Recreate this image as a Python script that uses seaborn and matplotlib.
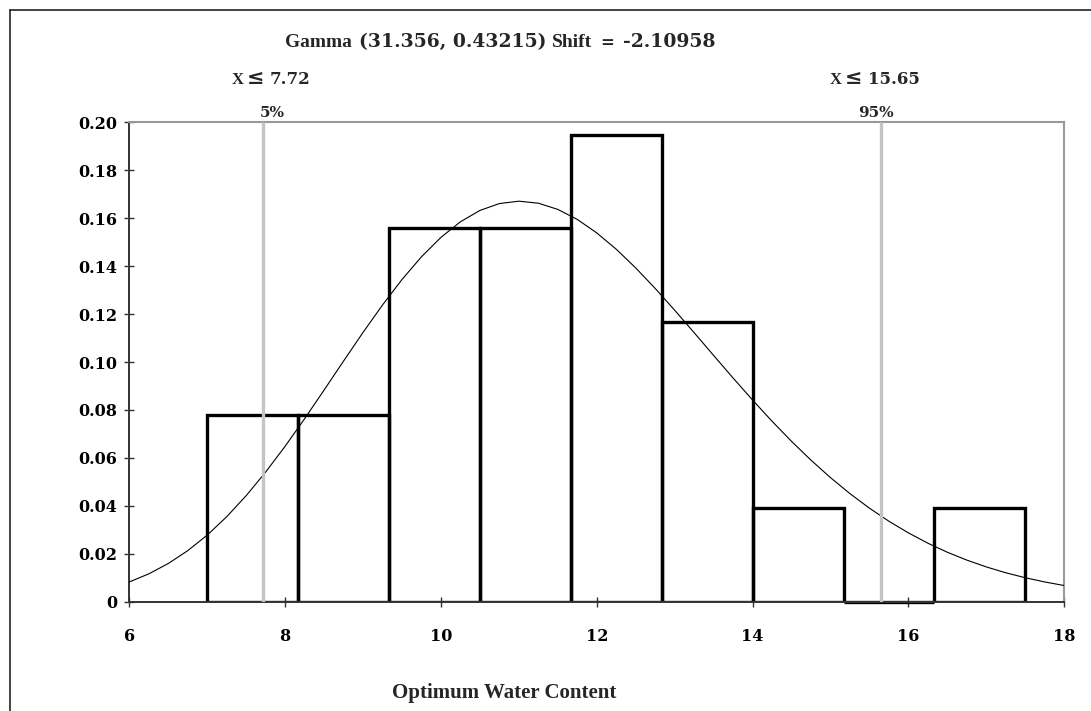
import matplotlib
matplotlib.use("Agg")
import matplotlib.pyplot as plt
from matplotlib.lines import Line2D
import seaborn as sns

# histogram bins (edges) and observation counts per bin
bin_edges = [7.0, 8.1667, 9.3333, 10.5, 11.6667, 12.8333, 14.0, 15.1667, 16.3333, 17.5]
bin_counts = [2, 2, 4, 4, 5, 3, 1, 0, 1]

# fitted gamma density, every 0.25
curve_x = [6.0, 6.25, 6.5, 6.75, 7.0, 7.25, 7.5, 7.75, 8.0, 8.25, 8.5, 8.75,
           9.0, 9.25, 9.5, 9.75, 10.0, 10.25, 10.5, 10.75, 11.0, 11.25, 11.5, 11.75,
           12.0, 12.25, 12.5, 12.75, 13.0, 13.25, 13.5, 13.75, 14.0, 14.25, 14.5, 14.75,
           15.0, 15.25, 15.5, 15.75, 16.0, 16.25, 16.5, 16.75, 17.0, 17.25, 17.5, 17.75, 18.0]
curve_y = [0.00824, 0.01161, 0.01593, 0.02129, 0.02778, 0.03544, 0.04424, 0.05409,
           0.06486, 0.07635, 0.08829, 0.10040, 0.11235, 0.12379, 0.13442, 0.14391,
           0.15201, 0.15850, 0.16323, 0.16610, 0.16709, 0.16625, 0.16366, 0.15947,
           0.15385, 0.14704, 0.13923, 0.13067, 0.12159, 0.11220, 0.10271, 0.09329,
           0.08410, 0.07526, 0.06688, 0.05902, 0.05174, 0.04506, 0.03900, 0.03355,
           0.02869, 0.02439, 0.02062, 0.01734, 0.01450, 0.01206, 0.00999, 0.00823, 0.00674]

# percentile markers
pct_x = [7.72, 15.65]
pct_labels = ["5%", "95%"]
pct_values = ["7.72", "15.65"]

x_ticks = [6, 8, 10, 12, 14, 16, 18]
y_ticks = [0, 0.02, 0.04, 0.06, 0.08, 0.10, 0.12, 0.14, 0.16, 0.18, 0.20]
y_tick_labels = ["0", "0.02", "0.04", "0.06", "0.08", "0.10", "0.12", "0.14", "0.16", "0.18", "0.20"]

TIMES = "Liberation Serif"
NUMS = "DejaVu Serif"

sns.set_theme(style="white")
plt.rcParams["font.family"] = [NUMS]
plt.rcParams["font.weight"] = "bold"

W, H = 1091, 711
fig = plt.figure(figsize=(W / 100, H / 100), dpi=100)
ax = fig.add_axes([129.3 / W, 1 - 601.7 / H, 935.0 / W, 479.4 / H])

bin_mids = [(a + b) / 2 for a, b in zip(bin_edges[:-1], bin_edges[1:])]
sns.histplot(x=bin_mids, weights=bin_counts, bins=bin_edges, stat="density",
             fill=False, color="black", linewidth=2.4, ax=ax, zorder=2)
# empty bins show as a thick line on the axis
for p in ax.patches:
    if p.get_height() == 0:
        p.set_clip_on(False)
sns.lineplot(x=curve_x, y=curve_y, color="black", linewidth=0.8, ax=ax, zorder=3)
for xv in pct_x:
    ax.axvline(xv, color="#c4c4c4", linewidth=2.4, zorder=4, solid_capstyle="butt")

ax.set_xlim(6, 18)
ax.set_ylim(0, 0.2)
ax.set_xticks(x_ticks)
ax.set_yticks(y_ticks)
ax.set_yticklabels(y_tick_labels)
ax.set_ylabel("")
ax.tick_params(bottom=True, left=True, direction="inout", length=7.2, width=1.0,
               color="#333333", labelsize=11.5, labelcolor="black")
ax.tick_params(axis="x", pad=15.5)
ax.tick_params(axis="y", pad=5.0)
for side in ["left", "bottom"]:
    ax.spines[side].set_color("#333333")
    ax.spines[side].set_linewidth(1.4)
for side in ["top", "right"]:
    ax.spines[side].set_color("#999999")
    ax.spines[side].set_linewidth(1.5)

ax.set_xlabel("Optimum Water Content", fontfamily=TIMES, fontsize=15, fontweight="bold")
ax.xaxis.label.set_va("baseline")
ax.xaxis.set_label_coords((504.5 - 129.3) / 935.0, -96.0 / 479.4)

renderer = fig.canvas.get_renderer()


def text_row(x_px, base_px, parts):
    x = x_px
    for s, fam, size, gap in parts:
        t = fig.text(x / W, 1 - base_px / H, s, fontfamily=fam, fontsize=size,
                     fontweight="bold", va="baseline", ha="left")
        x += t.get_window_extent(renderer).width + gap


text_row(285, 46.7, [("Gamma", TIMES, 14, 7),
                     ("(31.356, 0.43215)", NUMS, 13.5, 6),
                     ("Shift", TIMES, 14, 8),
                     ("=", NUMS, 12, 9),
                     ("-2.10958", NUMS, 13.5, 0)])

for start, val in zip([232, 830], pct_values):
    text_row(start, 84.5, [("X", TIMES, 12, 3), ("≤", NUMS, 15, 5), (val, NUMS, 12, 0)])

for cx, lab in zip([271.8, 876.0], pct_labels):
    fig.text(cx / W, 1 - 116.7 / H, lab, fontfamily=NUMS, fontsize=11,
             fontweight="bold", ha="center", va="baseline")

# outer frame (only top and left edges visible in the original)
fig.add_artist(Line2D([9.5 / W, 9.5 / W], [0, 1 - 9.5 / H], color="#222222", linewidth=1.2))
fig.add_artist(Line2D([9.5 / W, 1], [1 - 9.5 / H, 1 - 9.5 / H], color="#222222", linewidth=1.2))

fig.savefig("out.png", dpi=100)
